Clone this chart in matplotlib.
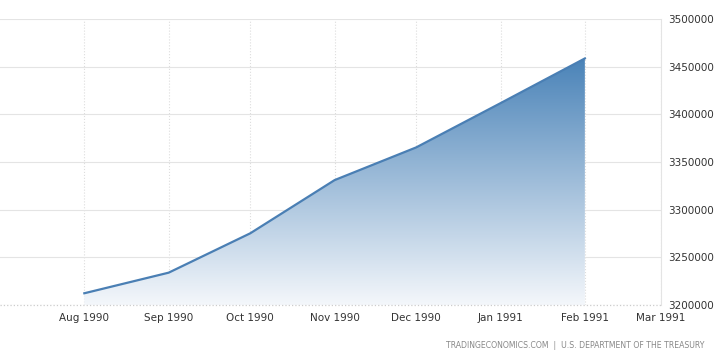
import matplotlib.pyplot as plt
import matplotlib.dates as mdates
from matplotlib.colors import LinearSegmentedColormap
import numpy as np
from datetime import date

months = [date(1990, 8, 1), date(1990, 9, 1), date(1990, 10, 1), date(1990, 11, 1),
          date(1990, 12, 1), date(1991, 1, 1), date(1991, 2, 1)]
values = [3212300, 3233900, 3275200, 3331000, 3365300, 3411700, 3458600]
tick_dates = [date(1990, 8, 1), date(1990, 9, 1), date(1990, 10, 1), date(1990, 11, 1),
              date(1990, 12, 1), date(1991, 1, 1), date(1991, 2, 1), date(1991, 3, 1)]
tick_labels = ['Aug 1990', 'Sep 1990', 'Oct 1990', 'Nov 1990',
               'Dec 1990', 'Jan 1991', 'Feb 1991', 'Mar 1991']
y_ticks = [3200000, 3250000, 3300000, 3350000, 3400000, 3450000, 3500000]

line_color = '#4a7fb4'

fig = plt.figure(figsize=(7.26, 3.63), dpi=100)
ax = fig.add_axes([0.0, 0.1598, 0.9105, 0.7879])

x = mdates.date2num(months)
ymin, ymax = 3200000, 3500000
x0, x1 = mdates.date2num(date(1990, 7, 1)), mdates.date2num(date(1991, 3, 1))

# gradient fill under the line
poly = ax.fill_between(x, values, ymin, color='none', lw=0)
top = max(values)
grad = np.linspace(0, 1, 256).reshape(-1, 1)
cmap = LinearSegmentedColormap.from_list('g', ['#f4f7fb', '#4a83b8'])
im = ax.imshow(grad, extent=[x[0], x[-1], ymin, top], origin='lower',
               aspect='auto', cmap=cmap, zorder=1)
im.set_clip_path(poly.get_paths()[0], transform=ax.transData)

ax.plot(x, values, color=line_color, lw=1.6, zorder=3, solid_joinstyle='round')

ax.set_xlim(x0, x1)
ax.set_ylim(ymin, ymax)
ax.set_xticks(mdates.date2num(tick_dates))
ax.set_xticklabels(tick_labels)
ax.set_yticks(y_ticks)
ax.set_yticklabels([str(v) for v in y_ticks])
ax.yaxis.tick_right()
ax.tick_params(axis='both', length=0, labelsize=7.5, colors='#333333')
ax.tick_params(axis='x', pad=6)
ax.tick_params(axis='y', pad=5)

ax.grid(axis='x', color='#dddddd', linestyle=':', lw=0.8, zorder=0)
ax.grid(axis='y', color='#e4e4e4', linestyle='-', lw=0.8, zorder=0)
ax.axhline(ymin, color='#cccccc', linestyle=':', lw=0.9, clip_on=False, zorder=2)
ax.set_axisbelow(True)
for side in ['left', 'top', 'bottom']:
    ax.spines[side].set_visible(False)
ax.spines['right'].set_color('#e4e4e4')
ax.spines['right'].set_linewidth(0.8)

fig.text(0.971, 0.047, 'TRADINGECONOMICS.COM  |  U.S. DEPARTMENT OF THE TREASURY',
         ha='right', va='center', fontsize=5.6, color='#888888')

plt.savefig('out.png', dpi=100)
